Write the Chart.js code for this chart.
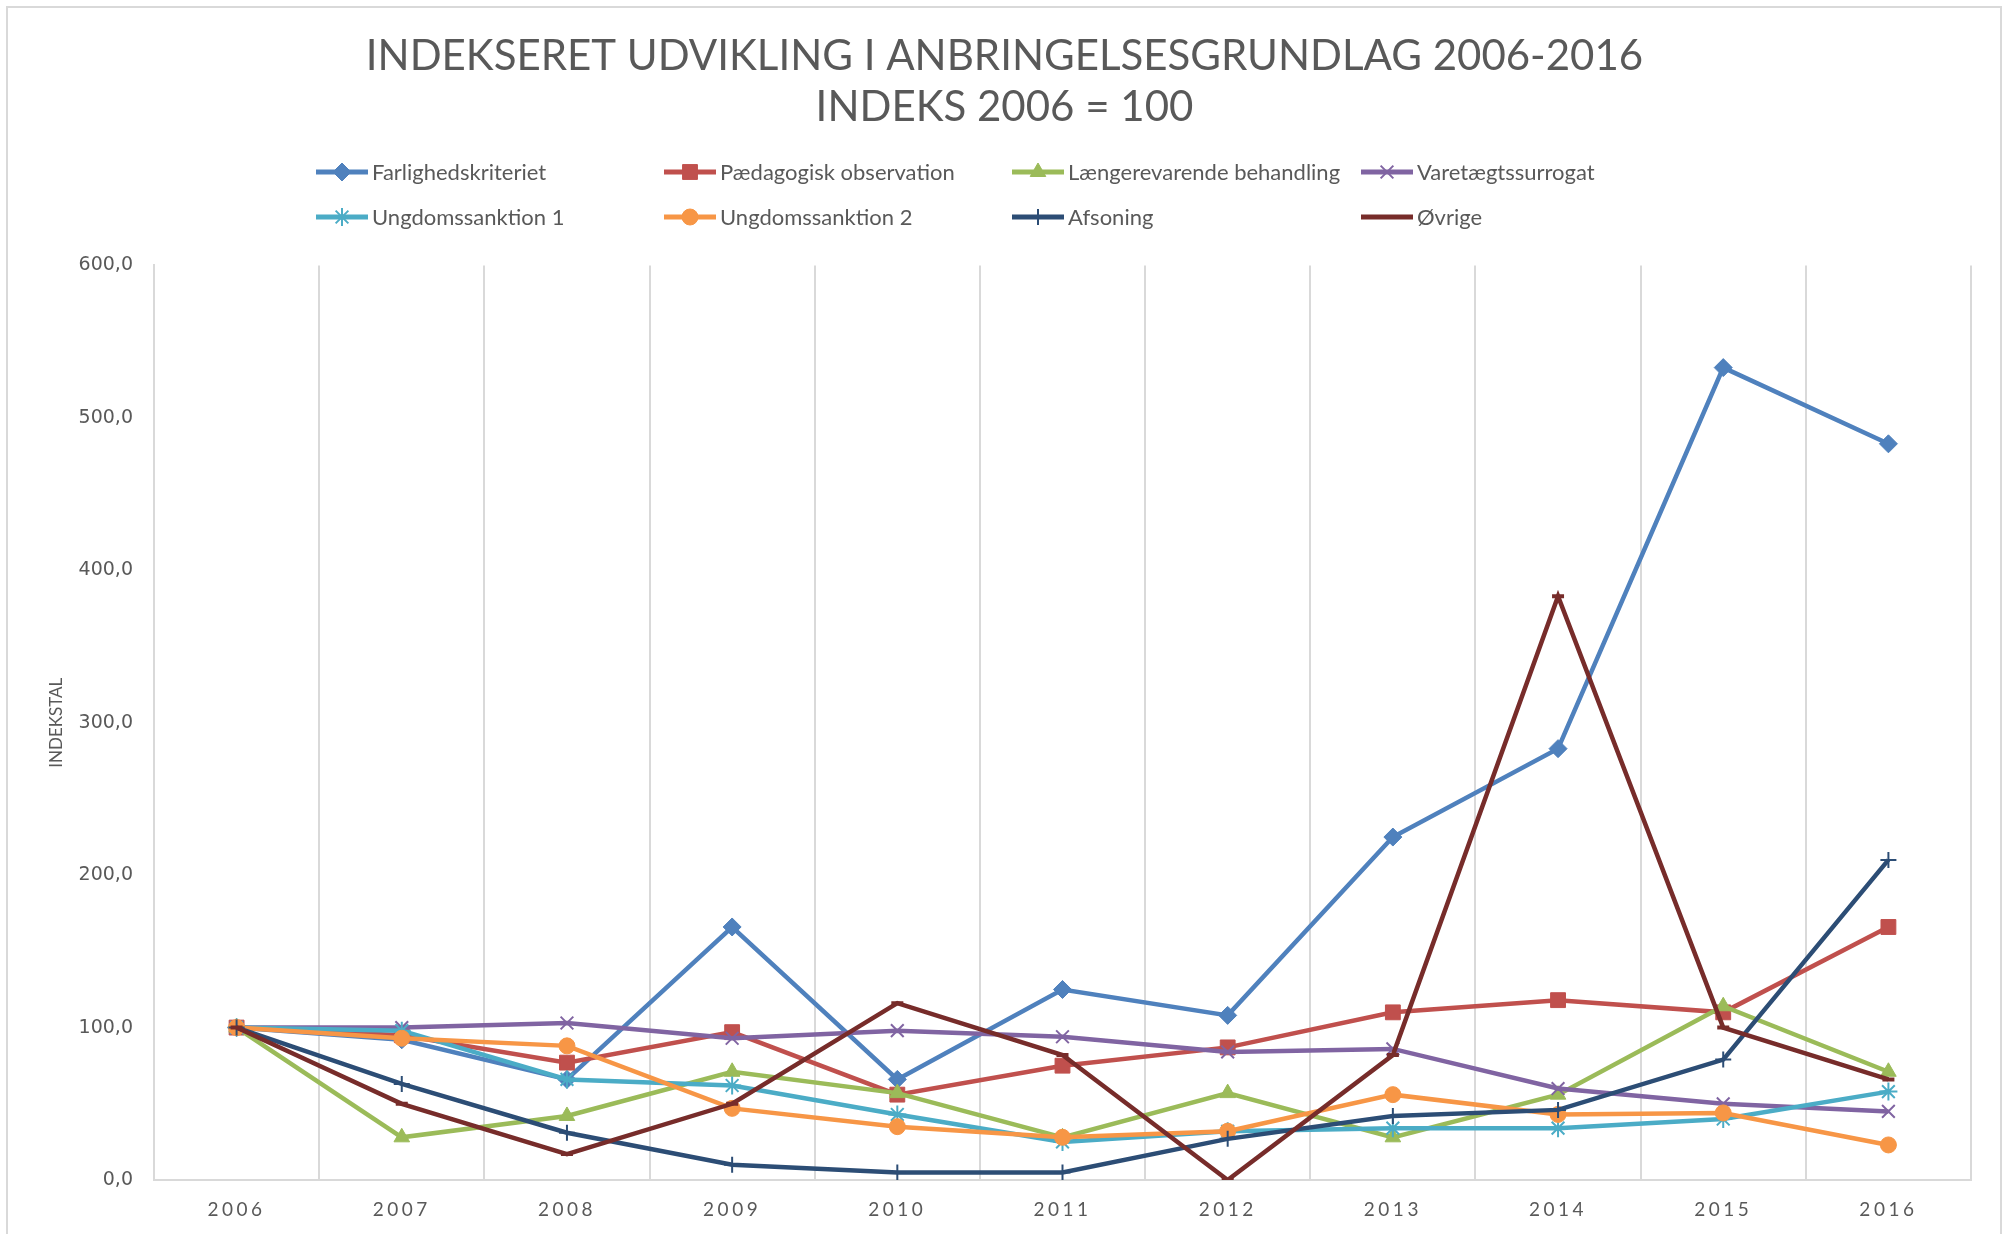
<!DOCTYPE html>
<html>
<head>
<meta charset="utf-8">
<title>Indekseret udvikling i anbringelsesgrundlag 2006-2016</title>
<script src="https://cdn.jsdelivr.net/npm/chart.js@4.4.1/dist/chart.umd.min.js"></script>
<style>
  html, body { margin: 0; padding: 0; background: #fff; }
</style>
</head>
<body>
<canvas id="chart" width="2009" height="1234"></canvas>
<script>
// år på x-aksen
const years = ["2006", "2007", "2008", "2009", "2010", "2011", "2012", "2013", "2014", "2015", "2016"];

// indekstal pr. anbringelsesgrundlag (2006 = 100)
const farlighedskriteriet = [100, 92, 66, 166, 66, 125, 108, 225, 283, 533, 483];
const paedagogiskObs      = [100, 95, 77, 97, 56, 75, 87, 110, 118, 110, 166];
const laengerevarende     = [100, 28, 42, 71, 57, 28, 57, 28, 56, 114, 71];
const varetaegtssurrogat  = [100, 100, 103, 93, 98, 94, 84, 86, 60, 50, 45];
const ungdomssanktion1    = [100, 98, 66, 62, 43, 25, 32, 34, 34, 40, 58];
const ungdomssanktion2    = [100, 93, 88, 47, 35, 28, 32, 56, 43, 44, 23];
const afsoning            = [100, 63, 31, 10, 5, 5, 27, 42, 46, 79, 210];
const oevrige             = [100, 50, 17, 50, 116, 82, 0, 82, 383, 100, 66];

const yTicks = [0, 100, 200, 300, 400, 500, 600];

const GREY = "#595959";
const LINE_GREY = "#D9D9D9";
const FONT = "Lato, 'Open Sans', sans-serif";

function serie(label, data, color, style, radius, pw) {
  return {
    label: label,
    data: data,
    borderColor: color,
    backgroundColor: color,
    borderWidth: 4.5,
    tension: 0,
    pointStyle: style,
    pointRadius: radius,
    pointHoverRadius: radius,
    pointBackgroundColor: color,
    pointBorderColor: color,
    pointBorderWidth: pw
  };
}

const datasets = [
  serie("Farlighedskriteriet", farlighedskriteriet, "#4F81BD", "rectRot", 9, 1),
  serie("Pædagogisk observation", paedagogiskObs, "#C0504D", "rect", 10.5, 1),
  serie("Længerevarende behandling", laengerevarende, "#9BBB59", "triangle", 9, 1),
  serie("Varetægtssurrogat", varetaegtssurrogat, "#8064A2", "crossRot", 9, 2),
  serie("Ungdomssanktion 1", ungdomssanktion1, "#4BACC6", "star", 9, 2),
  serie("Ungdomssanktion 2", ungdomssanktion2, "#F79646", "circle", 8, 1),
  serie("Afsoning", afsoning, "#2C4D75", "cross", 8, 2),
  serie("Øvrige", oevrige, "#772C2A", "line", 6, 4)
];
// senere serier tegnes ovenpå (som i Excel)
datasets.forEach((d, i) => { d.order = datasets.length - i; });

// ramme om hele diagrammet
const frame = {
  id: "frame",
  beforeDraw(chart) {
    const ctx = chart.ctx;
    ctx.save();
    ctx.fillStyle = "#fff";
    ctx.fillRect(0, 0, chart.width, chart.height);
    ctx.strokeStyle = LINE_GREY;
    ctx.lineWidth = 2;
    ctx.strokeRect(7, 7, chart.width - 15, chart.height + 20);
    ctx.restore();

    // spærret skrift i årstallene
    if (!chart.$spaced) {
      chart.$spaced = true;
      const xs = chart.scales.x;
      const xDraw = xs.drawLabels;
      xs.drawLabels = function () {
        chart.ctx.save();
        chart.ctx.letterSpacing = "3.5px";
        xDraw.apply(this, arguments);
        chart.ctx.restore();
      };
    }
  }
};

// forklaring i fire faste kolonner, to rækker
const legendGrid = {
  id: "legendGrid",
  afterDraw(chart) {
    const ctx = chart.ctx;
    const colX = [316, 664, 1012, 1361];
    const rowY = [172, 217];
    ctx.save();
    ctx.font = "22px " + FONT;
    ctx.textBaseline = "middle";
    ctx.textAlign = "left";
    chart.data.datasets.forEach((ds, i) => {
      const x = colX[i % 4];
      const y = rowY[Math.floor(i / 4)];
      ctx.strokeStyle = ds.borderColor;
      ctx.lineWidth = 5;
      ctx.lineCap = "butt";
      ctx.beginPath();
      ctx.moveTo(x, y);
      ctx.lineTo(x + 52, y);
      ctx.stroke();
      ctx.fillStyle = ds.pointBackgroundColor;
      ctx.strokeStyle = ds.pointBorderColor;
      ctx.lineWidth = ds.pointBorderWidth;
      Chart.helpers.drawPoint(ctx, {
        pointStyle: ds.pointStyle,
        radius: ds.pointRadius,
        borderWidth: ds.pointBorderWidth,
        rotation: 0
      }, x + 26, y);
      ctx.fillStyle = GREY;
      ctx.fillText(ds.label, x + 56, y + 1);
    });
    ctx.restore();
  }
};

new Chart(document.getElementById("chart"), {
  type: "line",
  data: { labels: years, datasets: datasets },
  plugins: [frame, legendGrid],
  options: {
    responsive: false,
    animation: false,
    devicePixelRatio: 1,
    layout: { padding: { left: 38, right: 38, top: 0, bottom: 0 } },
    plugins: {
      legend: { display: false },
      tooltip: { enabled: false },
      title: {
        display: true,
        text: ["INDEKSERET UDVIKLING I ANBRINGELSESGRUNDLAG 2006-2016", "INDEKS 2006 = 100"],
        color: GREY,
        font: { family: FONT, size: 42, weight: "normal", lineHeight: 1.22 },
        padding: { top: 31, bottom: 132 }
      }
    },
    scales: {
      x: {
        offset: true,
        grid: { offset: true, color: LINE_GREY, lineWidth: 2, drawTicks: false },
        border: { color: LINE_GREY, width: 2 },
        ticks: {
          color: GREY,
          padding: 18,
          font: { family: FONT, size: 19 }
        },
        afterFit(scale) { scale.height = 54; }
      },
      y: {
        min: yTicks[0],
        max: yTicks[yTicks.length - 1],
        afterBuildTicks(scale) { scale.ticks = yTicks.map(v => ({ value: v })); },
        grid: { display: false, drawTicks: false },
        border: { display: true, color: LINE_GREY, width: 2 },
        ticks: {
          color: GREY,
          padding: 21,
          font: { family: "'DejaVu Sans', Verdana, sans-serif", size: 19 },
          callback: v => v.toFixed(1).replace(".", ",")
        },
        title: {
          display: true,
          text: "INDEKSTAL",
          color: GREY,
          font: { family: FONT, size: 17 },
          padding: { top: 8, bottom: 0 }
        },
        afterFit(scale) { scale.width = 116; }
      }
    }
  }
});
</script>
</body>
</html>
